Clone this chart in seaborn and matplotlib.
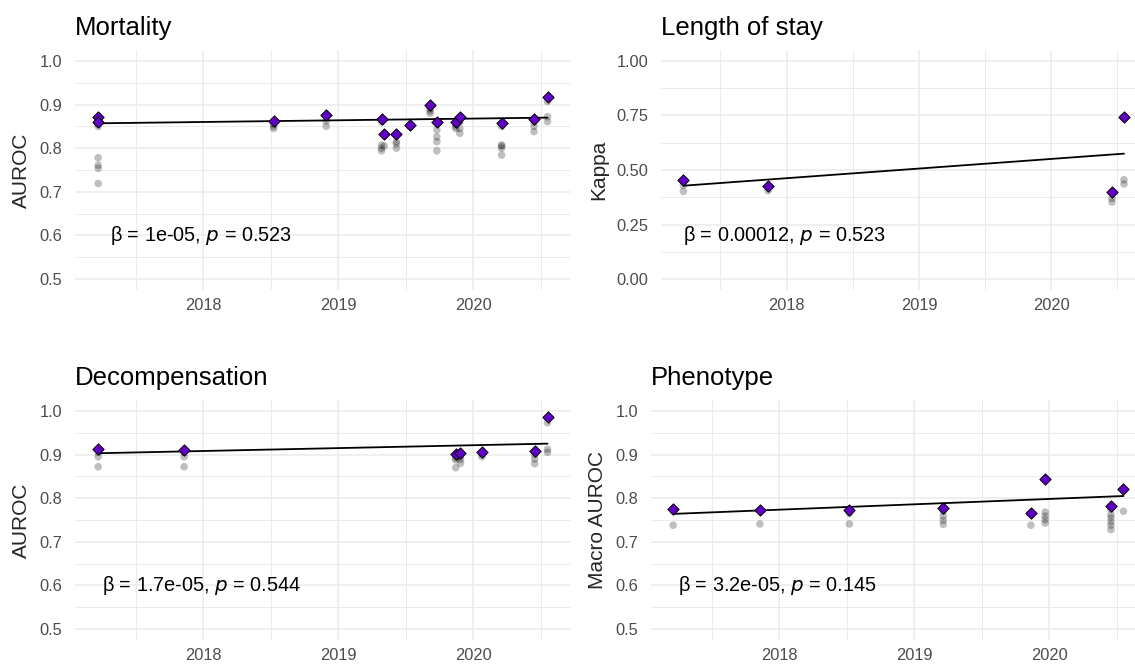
import numpy as np
import pandas as pd
import seaborn as sns
import matplotlib
matplotlib.use("Agg")
from matplotlib import pyplot as plt
from matplotlib.ticker import MultipleLocator

# dates as decimal years
mort_dates = [2017.22, 2017.22, 2018.52, 2018.91, 2019.32, 2019.34, 2019.43, 2019.53,
              2019.68, 2019.73, 2019.87, 2019.90, 2020.21, 2020.45, 2020.55]
mort_best = [0.872, 0.861, 0.863, 0.875, 0.867, 0.832, 0.832, 0.852,
             0.898, 0.861, 0.861, 0.872, 0.857, 0.867, 0.917]
mort_runs = [[0.860, 0.855, 0.850, 0.778, 0.761, 0.754, 0.719], [], [0.855, 0.850, 0.845],
             [0.862, 0.850], [0.860, 0.807, 0.800, 0.794], [0.805], [0.815, 0.810, 0.800],
             [0.850], [0.890, 0.885, 0.880], [0.842, 0.826, 0.815, 0.794],
             [0.855, 0.850, 0.845], [0.860, 0.845, 0.834],
             [0.850, 0.807, 0.805, 0.800, 0.784], [0.860, 0.850, 0.838], [0.907, 0.872, 0.861]]

los_dates = [2017.22, 2017.86, 2020.46, 2020.55]
los_best = [0.452, 0.428, 0.399, 0.741]
los_runs = [[0.430, 0.402], [0.405], [0.370, 0.353], [0.455, 0.436]]

dec_dates = [2017.22, 2017.857, 2019.87, 2019.905, 2020.065, 2020.455, 2020.55]
dec_best = [0.913, 0.911, 0.901, 0.904, 0.905, 0.909, 0.985]
dec_runs = [[0.905, 0.895, 0.872], [0.905, 0.895, 0.872], [0.892, 0.888, 0.870],
            [0.895, 0.889, 0.880], [0.900, 0.895], [0.900, 0.890, 0.879],
            [0.973, 0.912, 0.905]]

phe_dates = [2017.215, 2017.857, 2018.52, 2019.215, 2019.864, 2019.97, 2020.457, 2020.55]
phe_best = [0.775, 0.772, 0.774, 0.778, 0.766, 0.843, 0.782, 0.820]
phe_runs = [[0.770, 0.738], [0.741], [0.770, 0.765, 0.741], [0.770, 0.759, 0.749, 0.740],
            [0.738], [0.768, 0.759, 0.751, 0.743],
            [0.775, 0.762, 0.755, 0.746, 0.738, 0.728], [0.770]]

# fitted trend (value at first and last date)
fit_ends = {"Mortality": (0.857, 0.870), "Length of stay": (0.428, 0.575),
            "Decompensation": (0.903, 0.925), "Phenotype": (0.764, 0.805)}

titles = ["Mortality", "Length of stay", "Decompensation", "Phenotype"]
ylabels = ["AUROC", "Kappa", "AUROC", "Macro AUROC"]
labels = ["1e-05, ", "0.00012, ", "1.7e-05, ", "3.2e-05, "]
pvals = ["0.523", "0.523", "0.544", "0.145"]
label_x = [2017.31, 2017.22, 2017.245, 2017.25]

panels = [(mort_dates, mort_best, mort_runs), (los_dates, los_best, los_runs),
          (dec_dates, dec_best, dec_runs), (phe_dates, phe_best, phe_runs)]

sns.set_theme(style="white")
plt.rcParams['font.family'] = ['Liberation Sans', 'DejaVu Sans']

fig = plt.figure(figsize=(11.35, 6.64), dpi=100)
W, H = 1135, 664
# panel boxes in pixels: left, top, right, bottom
boxes = [(75, 50, 570, 290), (660.7, 50, 1146, 290),
         (75, 400, 570, 640), (650.7, 400, 1146, 640)]

all_dates = mort_dates + los_dates + dec_dates + phe_dates
lo, hi = min(all_dates), max(all_dates)
pad = 0.05 * (hi - lo)

for i, (title, (dates, best, runs)) in enumerate(zip(titles, panels)):
    l, t, r, b = boxes[i]
    ax = fig.add_axes([l / W, (H - b) / H, (r - l) / W, (b - t) / H])

    runs_df = pd.DataFrame([(d, v) for d, vs in zip(dates, runs) for v in vs],
                           columns=["date", "value"])
    best_df = pd.DataFrame({"date": dates, "value": best})
    fit_df = pd.DataFrame({"date": [min(dates), max(dates)], "value": fit_ends[title]})

    sns.scatterplot(data=runs_df, x="date", y="value", ax=ax, color="black",
                    alpha=0.25, s=30, edgecolor="none", zorder=3)
    sns.lineplot(data=fit_df, x="date", y="value", ax=ax, color="black",
                 linewidth=1.3, zorder=4)
    sns.scatterplot(data=best_df, x="date", y="value", ax=ax, marker="D",
                    color="#6300c8", edgecolor="black", linewidth=0.7, s=33, zorder=5)

    ax.set_xlim(lo - pad, hi + pad)
    if title == "Length of stay":
        ax.set_ylim(-0.05, 1.05)
        ax.yaxis.set_major_locator(MultipleLocator(0.25))
        ax.yaxis.set_minor_locator(MultipleLocator(0.125))
        ax.yaxis.set_major_formatter(lambda v, p: f"{v:.2f}")
        ty = 0.2
    else:
        ax.set_ylim(0.475, 1.025)
        ax.yaxis.set_major_locator(MultipleLocator(0.1))
        ax.yaxis.set_minor_locator(MultipleLocator(0.05))
        ax.yaxis.set_major_formatter(lambda v, p: f"{v:.1f}")
        ty = 0.6
    ax.set_xticks([2018, 2019, 2020])
    ax.set_xticklabels(["2018", "2019", "2020"])
    ax.xaxis.set_minor_locator(MultipleLocator(0.5))

    ax.grid(which="major", color="#EBEBEB", linewidth=1.1)
    ax.grid(which="minor", color="#EBEBEB", linewidth=0.7)
    ax.set_axisbelow(True)
    for s in ax.spines.values():
        s.set_visible(False)
    ax.tick_params(which="both", length=0)
    ax.tick_params(axis="y", pad=9, labelsize=11.8, labelcolor="#4D4D4D")
    ax.tick_params(axis="x", pad=5.5, labelsize=11.8, labelcolor="#4D4D4D")

    ax.set_xlabel("")
    ax.set_ylabel(ylabels[i], fontsize=15, labelpad=6)
    ax.set_title(title, loc="left", fontsize=18.5, pad=11, color="black")

    ax.text(label_x[i], ty, "\u03b2 = " + labels[i] + r"$\mathit{p}$ = " + pvals[i],
            fontsize=14.3, va="center", ha="left", color="black", zorder=6)

plt.savefig("out.png", dpi=100)
